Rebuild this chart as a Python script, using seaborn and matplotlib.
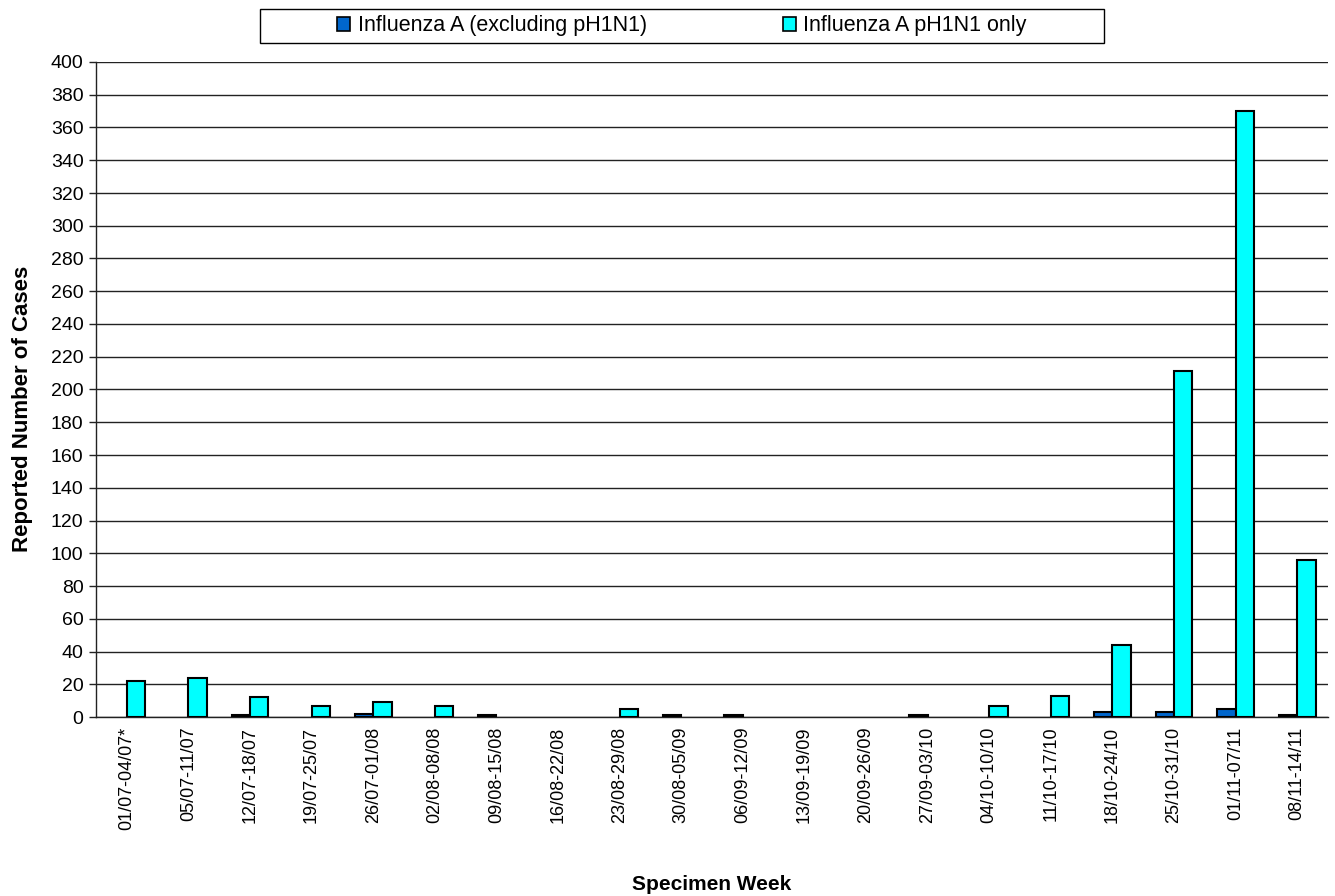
import matplotlib
matplotlib.use("Agg")
import matplotlib.pyplot as plt
import seaborn as sns
import pandas as pd
import numpy as np
from matplotlib.patches import Rectangle, Patch

weeks = ["01/07-04/07*", "05/07-11/07", "12/07-18/07", "19/07-25/07", "26/07-01/08",
         "02/08-08/08", "09/08-15/08", "16/08-22/08", "23/08-29/08", "30/08-05/09",
         "06/09-12/09", "13/09-19/09", "20/09-26/09", "27/09-03/10", "04/10-10/10",
         "11/10-17/10", "18/10-24/10", "25/10-31/10", "01/11-07/11", "08/11-14/11"]
flu_a_excl = [0, 0, 1, 0, 2, 0, 1, 0, 0, 1, 1, 0, 0, 1, 0, 0, 3, 3, 5, 1]
flu_a_ph1n1 = [22, 24, 12, 7, 9, 7, 0, 0, 5, 0, 0, 0, 0, 0, 7, 13, 44, 211, 370, 96]
series_names = ["Influenza A (excluding pH1N1)", "Influenza A pH1N1 only"]
colors = ["#0066CC", "#00FFFF"]

df = pd.DataFrame({
    "week": weeks * 2,
    "cases": flu_a_excl + flu_a_ph1n1,
    "series": [series_names[0]] * len(weeks) + [series_names[1]] * len(weeks),
})

sns.set_theme(style="white")
plt.rcParams['font.family'] = ['Liberation Sans', 'DejaVu Sans']
plt.rcParams.update({"text.color": "black", "axes.labelcolor": "black",
                     "xtick.color": "black", "ytick.color": "black"})

W, H = 1335, 896
fig = plt.figure(figsize=(W / 100, H / 100), dpi=100)
ax = fig.add_axes([96/W, 1 - 717/H, (1328-96)/W, (717-62)/H])

sns.barplot(data=df, x="week", y="cases", hue="series", order=weeks,
            hue_order=series_names, palette=colors, saturation=1, width=0.6, gap=0,
            edgecolor="black", linewidth=1.5, ax=ax, legend=False, zorder=3)

# hide zero-height bars (Excel draws nothing for them)
for cont in ax.containers:
    for p in cont:
        if p.get_height() == 0:
            p.set_visible(False)

ax.set_ylim(0, 400)
ax.set_xlim(-0.5, len(weeks) - 0.5)
ax.set_yticks(np.arange(0, 401, 20))
ax.yaxis.grid(True, color="#222222", linewidth=1.0, zorder=0)
ax.set_axisbelow(True)
for s in ["top", "right"]:
    ax.spines[s].set_visible(False)
for s in ["left", "bottom"]:
    ax.spines[s].set_color("#222222")
    ax.spines[s].set_linewidth(1.0)

ax.set_xticks(np.arange(len(weeks)))
ax.set_xticklabels(weeks, rotation=90, fontsize=13, color="black")
ax.tick_params(axis="x", length=0, pad=7)
ax.set_xticks(np.arange(-0.5, len(weeks)), minor=True)
ax.tick_params(axis="x", which="minor", length=6, width=1, color="#222222", direction="out")
ax.tick_params(axis="y", labelsize=14, length=5, width=1, color="#222222", labelcolor="black",
               direction="out", left=True, pad=4)

ax.set_ylabel("Reported Number of Cases", fontsize=16, fontweight="bold", color="black")
ax.yaxis.set_label_coords(-(96 - 33) / (1328 - 96), 0.47)

ax.set_xlabel("")
fig.text(712 / W, 1 - 890 / H, "Specimen Week", fontsize=15, fontweight="bold",
         ha="center", va="baseline", color="black")

handles = [Patch(facecolor=c, edgecolor="black", linewidth=1.2) for c in colors]
leg = fig.legend(handles, series_names, loc="center", bbox_to_anchor=(682 / W, 1 - 26 / H), ncol=2,
                 frameon=False, fontsize=15.5, labelcolor="black",
                 handlelength=0.6, handleheight=0.6, handletextpad=0.35, columnspacing=6.3,
                 borderpad=0.2)

fig.patches.append(Rectangle((260 / W, 1 - 43 / H), (1104 - 260) / W, 34 / H,
                             transform=fig.transFigure, fill=False,
                             edgecolor="black", linewidth=1.0))

fig.savefig("out.png", dpi=100)
